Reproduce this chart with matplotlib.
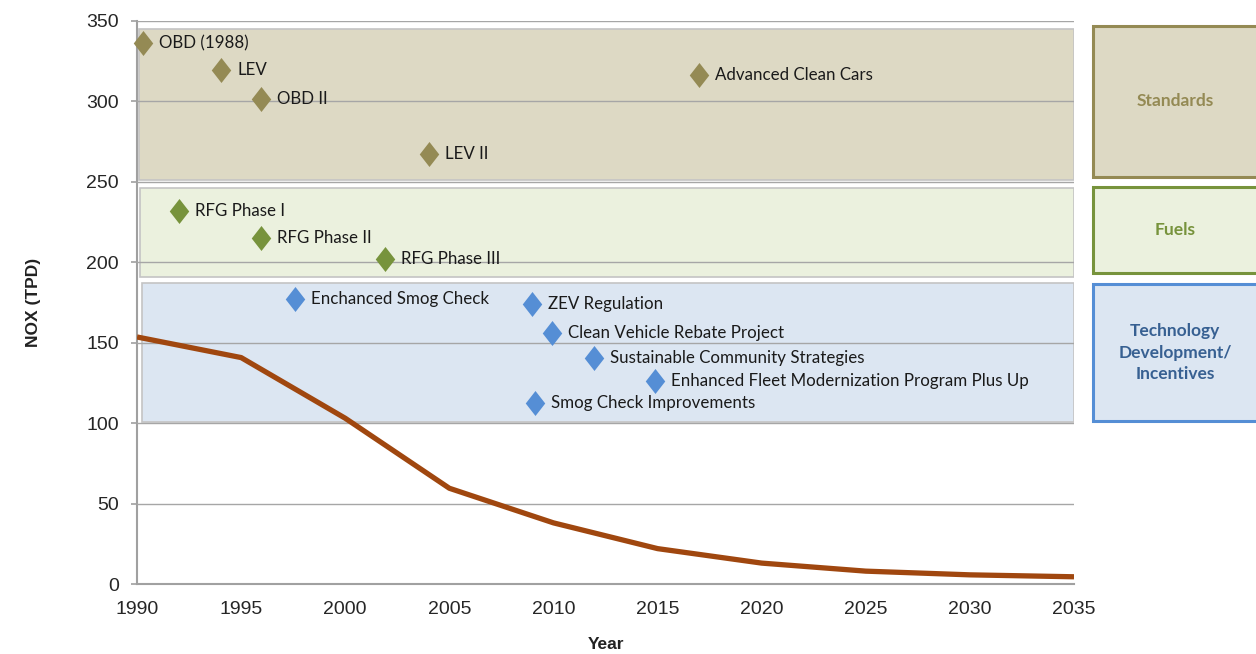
import numpy as np
import matplotlib
matplotlib.use("Agg")
import matplotlib.pyplot as plt
import matplotlib.transforms as mtransforms
from matplotlib.patches import Rectangle
from matplotlib.path import Path

# ── data ──────────────────────────────────────────────────────────────────────
years = [1990, 1995, 2000, 2005, 2010, 2015, 2020, 2025, 2030, 2035]
nox_tpd = [153.5, 140.7, 103.0, 59.5, 38.0, 22.0, 13.0, 8.0, 5.7, 4.5]

std_names = ["OBD (1988)", "LEV", "OBD II", "LEV II", "Advanced Clean Cars"]
std_x = [1990.3, 1994.05, 1995.95, 2004.0, 2017.0]
std_y = [336, 319.5, 301.5, 267, 316.5]

fuel_names = ["RFG Phase I", "RFG Phase II", "RFG Phase III"]
fuel_x = [1992.0, 1995.95, 2001.9]
fuel_y = [231.7, 215, 202]

tech_names = ["Enchanced Smog Check", "ZEV Regulation", "Clean Vehicle Rebate Project",
              "Sustainable Community Strategies",
              "Enhanced Fleet Modernization Program Plus Up", "Smog Check Improvements"]
tech_x = [1997.6, 2008.95, 2009.95, 2011.95, 2014.9, 2009.1]
tech_y = [177, 174.2, 156, 140.7, 126.3, 112.6]

# band ranges (TPD) for the shaded category areas
band_std = (251, 345)
band_fuel = (191, 246)
band_tech = (100.5, 187)

# ── styles ────────────────────────────────────────────────────────────────────
STYLES = {
    "std":  dict(marker="#948A54", face="#DDD9C4", edge="#948A54", text="#948A54"),
    "fuel": dict(marker="#77933C", face="#EBF1DE", edge="#77933C", text="#77933C"),
    "tech": dict(marker="#558ED5", face="#DCE6F2", edge="#558ED5", text="#376092"),
}
LABEL_FONT = ["Lato", "DejaVu Sans"]
AXIS_FONT = ["Liberation Sans", "DejaVu Sans"]

diamond = Path([(0, 1), (0.78, 0), (0, -1), (-0.78, 0), (0, 1)],
               [Path.MOVETO, Path.LINETO, Path.LINETO, Path.LINETO, Path.CLOSEPOLY])

fig = plt.figure(figsize=(12.56, 6.54), dpi=100)
ax = fig.add_axes([0.1091, 0.107, 0.7460, 0.8613])
ax.set_xlim(1990, 2035)
ax.set_ylim(0, 350)

# shaded bands inside the plot
for (lo, hi), key, x0 in [(band_std, "std", 1990.1), (band_fuel, "fuel", 1990.15),
                          (band_tech, "tech", 1990.22)]:
    ax.add_patch(Rectangle((x0, lo), 2035 - x0, hi - lo, facecolor=STYLES[key]["face"],
                           edgecolor="#C4C4C4", lw=1.2, zorder=0.5))

ax.set_yticks(np.arange(0, 351, 50))
ax.set_xticks(np.arange(1990, 2036, 5))
ax.grid(axis="y", color="#A6A6A6", lw=1.0, zorder=1)
ax.set_axisbelow(False)
for s in ["top", "right"]:
    ax.spines[s].set_visible(False)
for s in ["left", "bottom"]:
    ax.spines[s].set_color("#A0A0A0")
    ax.spines[s].set_linewidth(1.5)
ax.tick_params(axis="y", length=4, color="#A0A0A0", width=1.2, pad=9)
ax.tick_params(axis="x", length=0, pad=12)
for lab in ax.get_xticklabels() + ax.get_yticklabels():
    lab.set_family(AXIS_FONT)
    lab.set_fontsize(14)
    lab.set_color("#262626")

ax.set_ylabel("NOX (TPD)", family=AXIS_FONT, fontsize=12.5, fontweight="bold",
              color="#222222", labelpad=33)
ax.set_xlabel("Year", family=AXIS_FONT, fontsize=12.5, fontweight="bold",
              color="#222222", labelpad=14)

# emission curve
ax.plot(years, nox_tpd, color="#A0470F", lw=3.8, solid_capstyle="butt", zorder=3)

# program markers + labels
for names, xs, ys, key in [(std_names, std_x, std_y, "std"),
                           (fuel_names, fuel_x, fuel_y, "fuel"),
                           (tech_names, tech_x, tech_y, "tech")]:
    ax.scatter(xs, ys, marker=diamond, s=18 ** 2, color=STYLES[key]["marker"],
               linewidths=0, zorder=4, clip_on=False)
    for n, x, y in zip(names, xs, ys):
        ax.annotate(n, (x, y), xytext=(11.5, 0), textcoords="offset points",
                    va="center", ha="left", family=LABEL_FONT, fontsize=12.2,
                    color="#1A1A1A", zorder=5)

# category boxes on the right (x in figure fraction, y in data)
trans = mtransforms.blended_transform_factory(fig.transFigure, ax.transData)
for (lo, hi), key, txt in [((253, 347), "std", "Standards"),
                           ((193, 246.5), "fuel", "Fuels"),
                           ((101.4, 186.2), "tech", "Technology\nDevelopment/\nIncentives")]:
    ax.add_patch(Rectangle((0.8705, lo), 0.2, hi - lo, transform=trans,
                           facecolor=STYLES[key]["face"], edgecolor=STYLES[key]["edge"],
                           lw=2.2, clip_on=False, zorder=2))
    ax.text(0.9355, (lo + hi) / 2, txt, transform=trans, ha="center", va="center",
            family=LABEL_FONT, fontsize=12.5, fontweight="bold",
            color=STYLES[key]["text"], linespacing=1.45, clip_on=False)

fig.savefig("out.png", dpi=100)
